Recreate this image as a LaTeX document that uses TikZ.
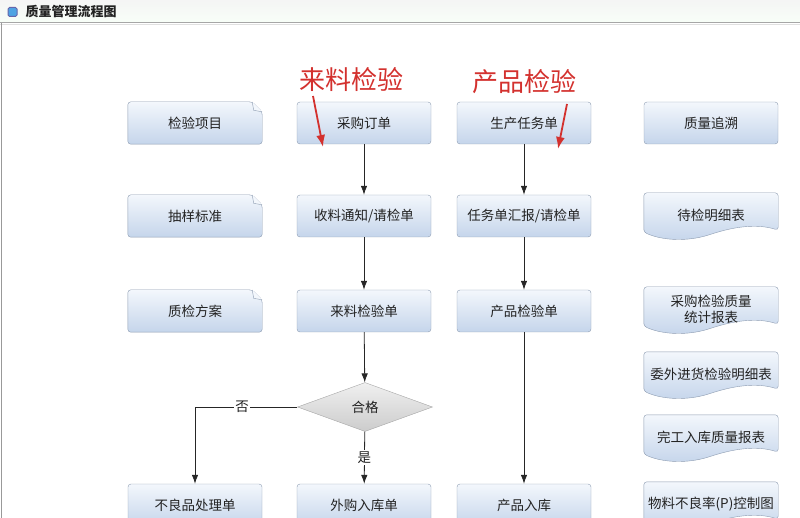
\documentclass[tikz,border=0pt]{standalone}
\usepackage{fontspec}
\setmainfont{Noto Sans CJK SC}
\usetikzlibrary{arrows.meta,calc,shapes.geometric,backgrounds}
\definecolor{btop}{HTML}{F3F7FC}
\definecolor{bbot}{HTML}{C5D5EB}
\definecolor{bline}{HTML}{8D9CB1}
\definecolor{txt}{HTML}{222222}
\definecolor{annot}{HTML}{D3312E}
\definecolor{icon}{HTML}{4FA3E3}
\tikzset{
  box/.style={minimum width=134pt, minimum height=42pt, inner sep=0pt, align=center,
    text=txt, font=\fontsize{13.5}{16}\selectfont},
  plain/.style={box, draw=bline, rounded corners=3pt, top color=btop, bottom color=bbot},
  doc/.style={box, minimum height=44pt},
  shapeline/.style={draw=bline, rounded corners=3pt, top color=btop, bottom color=bbot},
  flow/.style={-{Latex[length=9pt,width=6.5pt]}, draw=black!85, line width=0.8pt},
  hint/.style={-{Latex[length=12pt,width=9pt]}, draw=annot, line width=1.8pt},
  lbl/.style={fill=white, inner sep=1.5pt, text=txt, font=\fontsize{13.5}{16}\selectfont}
}
\begin{document}
\begin{tikzpicture}[x=1pt, y=-1pt]
  \useasboundingbox (0,0) rectangle (800,518);
  \clip (0,0) rectangle (800,518);
  % window frame
  \shade[top color=black!4, bottom color=black!12!green!3!white] (0,0) rectangle (800,22);
  \draw[black!35, line width=1.5pt] (0,22.5) -- (800,22.5);
  \draw[black!12, line width=1pt] (0,24.5) -- (800,24.5);
  \draw[black!40, line width=1.5pt] (1.5,23) -- (1.5,518);
  \draw[fill=icon, draw=black!55!blue!60, line width=1pt, rounded corners=1.5pt] (8,7.5) rectangle (17,16.5);
  \node[anchor=west, text=txt, font=\fontsize{13}{15}\selectfont\bfseries] (title) at (22,11.5) {质量管理流程图};

  % left column
  \node[box] (xm) at (195,123) {检验项目};
  \node[box] (cy) at (195,216) {抽样标准};
  \node[box] (fa) at (195,311) {质检方案};
  \node[plain] (bp) at (195,505) {不良品处理单};

  % incoming material
  \node[plain] (cg) at (364,123) {采购订单};
  \node[plain] (sl) at (364,216) {收料通知/请检单};
  \node[plain] (ll) at (364,311) {来料检验单};
  \node[diamond, draw=black!35, top color=black!6, bottom color=black!20, minimum width=135pt,
        minimum height=49pt, inner sep=0pt, text=txt, font=\fontsize{13.5}{16}\selectfont] (hg) at (365,407) {合格};
  \node[plain] (wg) at (364,505) {外购入库单};

  % products
  \node[plain] (sc) at (524,123) {生产任务单};
  \node[plain] (hb) at (524,216) {任务单汇报/请检单};
  \node[plain] (cp) at (524,311) {产品检验单};
  \node[plain] (rk) at (524,505) {产品入库};

  % reports
  \node[plain] (zs) at (711,123) {质量追溯};
  \node[doc] (dj) at (711,215) {待检明细表};
  \node[doc] (tj) at (711,309) {采购检验质量\\统计报表};
  \node[doc] (ww) at (711,374) {委外进货检验明细表};
  \node[doc] (wr) at (711,437) {完工入库质量报表};
  \node[doc] (kz) at (711,504) {物料不良率(P)控制图};

  \begin{scope}[on background layer]
    \foreach \n in {xm,cy,fa} {
      \draw[shapeline] ($(\n.north east)+(-10,0)$) -- (\n.north west) -- (\n.south west)
        -- (\n.south east) -- ($(\n.north east)+(0,10)$) -- cycle;
      \draw[draw=bline, fill=btop] ($(\n.north east)+(-10,0)$) -- ($(\n.north east)+(-8.5,8.5)$)
        -- ($(\n.north east)+(0,10)$);
    }
    \foreach \n in {dj,tj,ww,wr,kz}
      \draw[shapeline] ($(\n.south west)+(0,-5)$) -- (\n.north west) -- (\n.north east)
        -- ($(\n.south east)+(0,-7)$) .. controls ($(\n.south east)+(-22,-14)$) and ($(\n.south east)+(-45,-10)$)
        .. ($(\n.south)+(0,-3)$) .. controls ($(\n.south)+(-22,4)$) and ($(\n.south west)+(20,4)$)
        .. ($(\n.south west)+(0,-5)$) -- cycle;
  \end{scope}

  % connectors
  \draw[flow] (cg) -- (sl);
  \draw[flow] (sl) -- (ll);
  \draw[flow] (ll) -- (hg);
  \draw[flow] (hg) -- node[lbl] {是} (wg);
  \draw[flow] (hg.west) -| node[lbl, pos=0.27] {否} (bp.north);
  \draw[flow] (sc) -- (hb);
  \draw[flow] (hb) -- (cp);
  \draw[flow] (cp) -- (rk);

  % red notes
  \node[text=annot, font=\fontsize{26}{30}\selectfont] (lljy) at (351,80) {来料检验};
  \node[text=annot, font=\fontsize{26}{30}\selectfont] (cpjy) at (524,82) {产品检验};
  \coordinate (a1) at (313,96);
  \coordinate (a2) at (567,104);
  \draw[hint] (a1) -- (323,147);
  \draw[hint] (a2) -- (558,149);
\end{tikzpicture}
\end{document}
